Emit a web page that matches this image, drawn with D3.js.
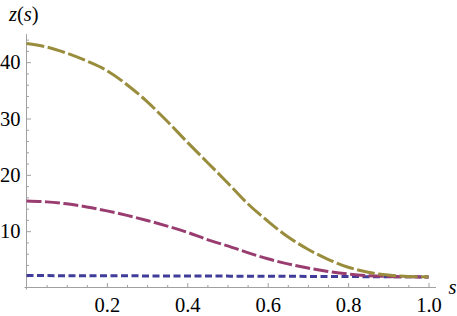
<!DOCTYPE html>
<html>
<head>
<meta charset="utf-8">
<script src="https://cdn.jsdelivr.net/npm/d3@7"></script>
<style>
  body { margin: 0; background: #fff; }
  svg { display: block; }
</style>
</head>
<body>
<div id="chart"></div>
<script>
// s samples
const sGrid = [0, 0.05, 0.1, 0.15, 0.2, 0.25, 0.3, 0.35, 0.4, 0.45, 0.5,
               0.55, 0.6, 0.65, 0.7, 0.75, 0.8, 0.85, 0.9, 0.95, 1.0];
const zOlive = [43.3, 42.7, 41.6, 40.2, 38.5, 36.0, 33.0, 29.5, 25.8, 22.2, 18.6,
                14.9, 11.8, 9.0, 6.8, 5.0, 3.6, 2.7, 2.2, 1.95, 1.9];
const zPurple = [15.35, 15.2, 14.85, 14.3, 13.6, 12.8, 11.9, 10.9, 9.8, 8.5, 7.4,
                 6.2, 5.1, 4.2, 3.45, 2.85, 2.4, 2.1, 1.95, 1.9, 1.88];
const sBlue = [0, 0.1, 0.2, 0.3, 0.4, 0.5, 0.6, 0.7, 0.8, 0.9, 1.0];
const zBlue = [2.12, 2.1, 2.08, 2.06, 2.04, 2.02, 2.0, 1.97, 1.94, 1.91, 1.88];

const xTicks = [0.2, 0.4, 0.6, 0.8, 1.0];
const yTicks = [10, 20, 30, 40];

const width = 457, height = 316;
const serif = "'Liberation Serif', 'Times New Roman', 'DejaVu Serif', serif";

const svg = d3.select("#chart")
    .append("svg")
    .attr("width", width)
    .attr("height", height);

const x = d3.scaleLinear().domain([0, 1]).range([26.5, 428.5]);
const y = d3.scaleLinear().domain([0, 45]).range([287.5, 34]);

const axisColor = "#a0a0a0";

// minor ticks
const xMinor = d3.range(1, 21).map(i => i * 0.05).filter(v => Math.round(v * 100) % 20 !== 0);
const yMinor = d3.range(1, 23).map(i => i * 2).filter(v => v % 10 !== 0);

const gx = svg.append("g").attr("transform", `translate(0,${y(0)})`);
gx.append("g")
    .call(d3.axisBottom(x).tickValues(xMinor).tickSize(-2.5).tickFormat(""));
gx.append("g")
    .call(d3.axisBottom(x).tickValues(xTicks).tickSize(-4.5).tickPadding(10)
        .tickFormat(d3.format(".1f")));
gx.selectAll(".domain").remove();
gx.append("line")
    .attr("x1", x(0) - 2).attr("x2", 436)
    .attr("stroke", axisColor);

const gy = svg.append("g").attr("transform", `translate(${x(0)},0)`);
gy.append("g")
    .call(d3.axisLeft(y).tickValues(yMinor).tickSize(-2.5).tickFormat(""));
gy.append("g")
    .call(d3.axisLeft(y).tickValues(yTicks).tickSize(-4.5).tickPadding(6));
gy.selectAll(".domain").remove();
gy.append("line")
    .attr("y1", y(0) + 2).attr("y2", 34)
    .attr("stroke", axisColor);

svg.selectAll("g").attr("font-family", serif).attr("font-size", 20.5);
svg.selectAll(".tick line").attr("stroke", axisColor);
svg.selectAll(".tick text").attr("fill", "#000");

// axis labels
const zl = svg.append("text")
    .attr("x", 9).attr("y", 20.5)
    .attr("font-family", serif)
    .attr("font-size", 20.5);
zl.append("tspan").attr("font-style", "italic").text("z");
zl.append("tspan").text("(");
zl.append("tspan").attr("font-style", "italic").text("s");
zl.append("tspan").text(")");

svg.append("text")
    .attr("x", 448.5).attr("y", 293.5)
    .attr("font-family", serif)
    .attr("font-size", 20.5)
    .attr("font-style", "italic")
    .text("s");

// curves
const line = d3.line()
    .x(d => x(d[0]))
    .y(d => y(d[1]))
    .curve(d3.curveMonotoneX);

const series = [
    { pts: d3.zip(sBlue, zBlue), color: "#3f3d99", dash: "7,3.5" },
    { pts: d3.zip(sGrid, zPurple), color: "#993d71", dash: "15,3.5" },
    { pts: d3.zip(sGrid, zOlive), color: "#998d3d", dash: "18,3.5" }
];

svg.selectAll("path.curve")
    .data(series)
    .join("path")
    .attr("class", "curve")
    .attr("d", d => line(d.pts))
    .attr("fill", "none")
    .attr("stroke", d => d.color)
    .attr("stroke-width", 3)
    .attr("stroke-dasharray", d => d.dash);
</script>
</body>
</html>
